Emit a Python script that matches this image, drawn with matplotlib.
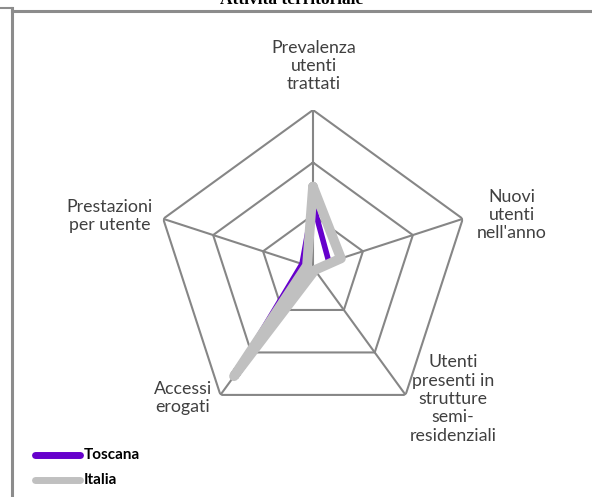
import numpy as np
import matplotlib
matplotlib.use("Agg")
import matplotlib.pyplot as plt
from matplotlib.lines import Line2D

categories = ["Prevalenza\nutenti\ntrattati", "Nuovi\nutenti\nnell'anno",
              "Utenti\npresenti in\nstrutture\nsemi-\nresidenziali",
              "Accessi\nerogati", "Prestazioni\nper utente"]
toscana = [0.61, 0.16, 0.03, 1.22, 0.11]
italia = [0.77, 0.28, 0.03, 1.28, 0.06]
rings = [0.5, 1.0, 1.5]
series_names = ["Toscana", "Italia"]

W, H = 592, 497
fig = plt.figure(figsize=(W / 100, H / 100), dpi=100)
fig.patch.set_facecolor("white")

def fx(x):
    return x / W

def fy(y):
    return 1 - y / H

cx, cy, R = 313, 267.5, 157.5
ax = fig.add_axes([fx(cx - R), fy(cy + R), 2 * R / W, 2 * R / H], projection="polar")
ax.set_theta_offset(np.pi / 2)
ax.set_theta_direction(-1)
ax.set_ylim(0, rings[-1])
ax.grid(False)
ax.set_xticks([])
ax.set_yticks([])
ax.spines["polar"].set_visible(False)
ax.patch.set_alpha(0)

n = len(categories)
theta = np.linspace(0, 2 * np.pi, n, endpoint=False)
tc = np.append(theta, theta[0])

grid_col = "#868686"
for r in rings:
    ax.plot(tc, [r] * (n + 1), color=grid_col, lw=1.5, zorder=1)
for t in theta:
    ax.plot([t, t], [0, rings[-1]], color=grid_col, lw=1.5, zorder=1)

ax.plot(tc, toscana + toscana[:1], color="#6600CC", lw=4, zorder=3,
        solid_joinstyle="round", solid_capstyle="round")
ax.plot(tc, italia + italia[:1], color="#C0C0C0", lw=7, zorder=4,
        solid_joinstyle="round", solid_capstyle="round")

label_pos = [(314, 66), (512, 215), (453, 399), (183, 398), (110, 216)]
lab_col = "#404040"
for lab, (x, y) in zip(categories, label_pos):
    fig.text(fx(x), fy(y), lab, ha="center", va="center", fontsize=12.8,
             family="Lato", color=lab_col, linespacing=1.18)

# title (mostly clipped at top, as in the reference)
fig.text(fx(292), fy(4), "Attività territoriale", ha="center", va="baseline",
         fontsize=12.5, fontweight="bold", family="Liberation Serif", color="black")

# frame
fc = "#8c8c8c"
fig.add_artist(Line2D([fx(12), fx(12)], [fy(8), fy(497)], color=fc, lw=2.2))
fig.add_artist(Line2D([fx(12), fx(592)], [fy(11), fy(11)], color=fc, lw=2.2))
fig.add_artist(Line2D([fx(0), fx(12)], [fy(8), fy(8)], color=fc, lw=1.5))

# legend
leg_cols = ["#6600CC", "#C0C0C0"]
for i, (name, col) in enumerate(zip(series_names, leg_cols)):
    y = 455 + i * 25
    fig.add_artist(Line2D([fx(35), fx(80)], [fy(y), fy(y)], color=col, lw=5,
                          solid_capstyle="round"))
    fig.text(fx(84), fy(y), name, ha="left", va="center", fontsize=11,
             fontweight="bold", family="Lato", color="black")

fig.savefig("out.png", dpi=100)
